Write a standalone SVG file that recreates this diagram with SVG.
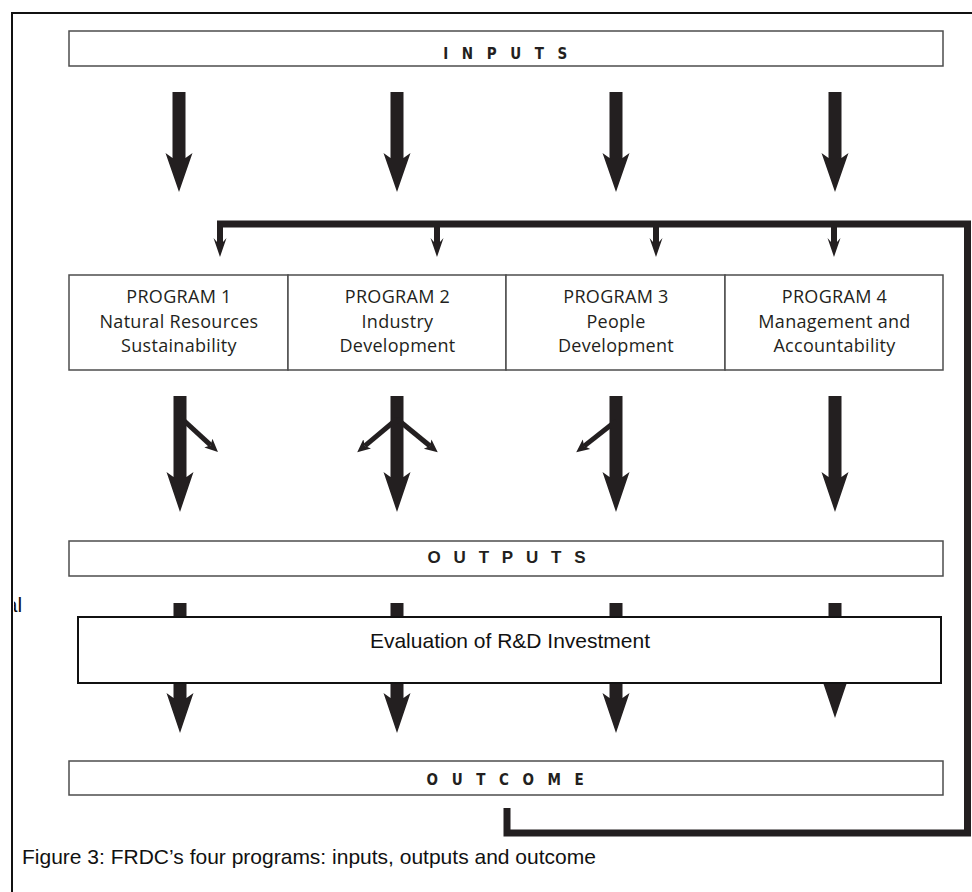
<svg xmlns="http://www.w3.org/2000/svg" width="972" height="892" viewBox="0 0 972 892">
<style>
.box{fill:#fff;stroke:#4d4d4d;stroke-width:1.5}
.ebox{fill:#fff;stroke:#111;stroke-width:2}
.arr{fill:#231f20}
.hdr{font-family:"DejaVu Sans Condensed","DejaVu Sans",sans-serif;font-stretch:condensed;font-weight:bold;font-size:15px;fill:#231f20;text-anchor:middle}
.hdr2{font-family:"Liberation Sans",Arial,sans-serif;font-weight:bold;font-size:17px;fill:#231f20;text-anchor:middle}
.prog{font-family:"Open Sans","Noto Sans",sans-serif;font-size:18px;letter-spacing:0.3px;fill:#231f20;text-anchor:middle}
.ar{font-family:"Liberation Sans",Arial,sans-serif;font-size:21px;fill:#111}
.br{stroke:#231f20;stroke-width:5;fill:none}
</style>
<defs>
<marker id="sm" markerUnits="userSpaceOnUse" markerWidth="16" markerHeight="14" viewBox="0 -7 16 14" refX="3" refY="0" orient="auto">
<path d="M0,-6 L13,0 L0,6 L3,0 Z" fill="#231f20"/>
</marker>
<clipPath id="frag"><rect x="14" y="580" width="20" height="40"/></clipPath>
</defs>
<rect id="frame" x="12" y="13" width="980" height="900" fill="none" stroke="#111" stroke-width="2"/>
<text class="ar" x="5.8" y="612" clip-path="url(#frag)">al</text>
<g id="inputs">
<rect class="box" x="69" y="31" width="874" height="35"/>
<text class="hdr" x="512" y="59" letter-spacing="13.6">INPUTS</text>
</g>
<g id="program1">
<rect class="box" x="69" y="275" width="219" height="95"/>
<text class="prog" x="179" y="303">PROGRAM 1</text>
<text class="prog" x="179" y="328">Natural Resources</text>
<text class="prog" x="179" y="352">Sustainability</text>
</g>
<g id="program2">
<rect class="box" x="288" y="275" width="218" height="95"/>
<text class="prog" x="397.5" y="303">PROGRAM 2</text>
<text class="prog" x="397.5" y="328">Industry</text>
<text class="prog" x="397.5" y="352">Development</text>
</g>
<g id="program3">
<rect class="box" x="506" y="275" width="219" height="95"/>
<text class="prog" x="616" y="303">PROGRAM 3</text>
<text class="prog" x="616" y="328">People</text>
<text class="prog" x="616" y="352">Development</text>
</g>
<g id="program4">
<rect class="box" x="725" y="275" width="218" height="95"/>
<text class="prog" x="834.5" y="303">PROGRAM 4</text>
<text class="prog" x="834.5" y="328">Management and</text>
<text class="prog" x="834.5" y="352">Accountability</text>
</g>
<g id="outputs">
<rect class="box" x="69" y="541" width="874" height="35"/>
<text class="hdr2" x="513" y="563" letter-spacing="12.8">OUTPUTS</text>
</g>
<g id="outcome">
<rect class="box" x="69" y="761" width="874" height="34"/>
<text class="hdr" x="512" y="785" letter-spacing="13.6">OUTCOME</text>
</g>
<g id="connectors">
<path class="arr" d="M172.5 92H185.5V158L192.5 153L179 192L165.5 153L172.5 158Z"/>
<path class="arr" d="M390.5 92H403.5V158L410.5 153L397 192L383.5 153L390.5 158Z"/>
<path class="arr" d="M609.5 92H622.5V158L629.5 153L616 192L602.5 153L609.5 158Z"/>
<path class="arr" d="M828.5 92H841.5V158L848.5 153L835 192L821.5 153L828.5 158Z"/>
<path d="M507 808V833H967.5V224H217" fill="none" stroke="#231f20" stroke-width="7" stroke-linejoin="miter"/>
<path class="arr" d="M217 221H223V242L226.5 238L220 257L213.5 238L217 242Z"/>
<path class="arr" d="M434 224H440V242L443.5 238L437 257L430.5 238L434 242Z"/>
<path class="arr" d="M653 224H659V242L662.5 238L656 257L649.5 238L653 242Z"/>
<path class="arr" d="M831 224H837V242L840.5 238L834 257L827.5 238L831 242Z"/>
<path class="arr" d="M173.5 396H186.5V477L193.5 472L180 512L166.5 472L173.5 477Z"/>
<path class="arr" d="M390.5 396H403.5V477L410.5 472L397 512L383.5 472L390.5 477Z"/>
<path class="arr" d="M609.5 396H622.5V477L629.5 472L616 512L602.5 472L609.5 477Z"/>
<path class="arr" d="M828.5 396H841.5V477L848.5 472L835 512L821.5 472L828.5 477Z"/>
<line class="br" x1="180" y1="417" x2="210.6" y2="445.2" marker-end="url(#sm)"/>
<line class="br" x1="397" y1="419" x2="364.9" y2="445.9" marker-end="url(#sm)"/>
<line class="br" x1="397" y1="419" x2="430" y2="446" marker-end="url(#sm)"/>
<line class="br" x1="616" y1="421" x2="584.1" y2="446.1" marker-end="url(#sm)"/>
<path class="arr" d="M173.5 603H186.5V698L193.5 693L180 733L166.5 693L173.5 698Z"/>
<path class="arr" d="M390.5 603H403.5V698L410.5 693L397 733L383.5 693L390.5 698Z"/>
<path class="arr" d="M609.5 603H622.5V698L629.5 693L616 733L602.5 693L609.5 698Z"/>
<path class="arr" d="M828.5 603H841.5V683L848.5 678L835 718L821.5 678L828.5 683Z"/>
</g>
<g id="evaluation">
<rect class="ebox" x="78" y="617" width="863" height="66"/>
<text class="ar" x="510" y="648" text-anchor="middle">Evaluation of R&amp;D Investment</text>
</g>
<text id="caption" class="ar" x="22" y="864">Figure 3: FRDC’s four programs: inputs, outputs and outcome</text>
</svg>
